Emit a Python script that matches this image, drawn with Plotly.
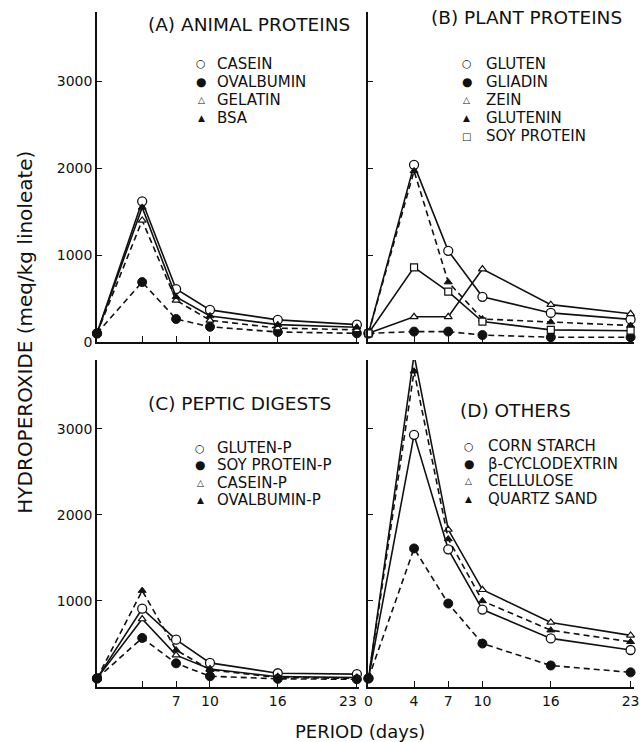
import plotly.graph_objects as go

days = [0, 4, 7, 10, 16, 23]

# Panel A - animal proteins
casein = [100, 1620, 610, 370, 255, 200]
ovalbumin = [100, 690, 265, 175, 115, 100]
gelatin = [100, 1400, 480, 250, 160, 140]
bsa = [100, 1550, 520, 300, 200, 170]

# Panel B - plant proteins
gluten = [100, 2040, 1050, 520, 335, 260]
gliadin = [100, 120, 120, 80, 55, 55]
zein = [100, 290, 290, 840, 430, 325]
glutenin = [100, 1970, 690, 265, 230, 190]
soy_protein = [100, 860, 580, 235, 140, 130]

# Panel C - peptic digests
gluten_p = [100, 910, 550, 280, 160, 150]
soy_protein_p = [100, 570, 275, 125, 95, 90]
casein_p = [100, 790, 370, 210, 120, 110]
ovalbumin_p = [100, 1120, 430, 200, 110, 100]

# Panel D - others
corn_starch = [100, 2930, 1600, 900, 565, 430]
beta_cd = [100, 1610, 970, 505, 250, 170]
cellulose = [100, 3860, 1830, 1130, 750, 600]
quartz_sand = [100, 3670, 1720, 1000, 660, 525]

panel_titles = ["(A) ANIMAL PROTEINS", "(B) PLANT PROTEINS", "(C) PEPTIC DIGESTS", "(D) OTHERS"]
y_ticks = [0, 1000, 2000, 3000]

FONT = "DejaVu Sans"
BLACK = "#111111"

STY = {
    "oc": dict(symbol="circle", size=9, color="white", line=dict(color=BLACK, width=1.3)),
    "fc": dict(symbol="circle", size=9, color=BLACK, line=dict(color=BLACK, width=1)),
    "ot": dict(symbol="triangle-up", size=7, color="white", line=dict(color=BLACK, width=1.2)),
    "ft": dict(symbol="triangle-up", size=7, color=BLACK, line=dict(color=BLACK, width=1)),
    "os": dict(symbol="square", size=7, color="white", line=dict(color=BLACK, width=1.2)),
}
GLYPH = {"oc": ("○", 11), "fc": ("●", 12), "ot": ("△", 9), "ft": ("▲", 9), "os": ("□", 10)}

panels = [
    ("x", "y", [
        ("CASEIN", casein, "oc", "solid"),
        ("OVALBUMIN", ovalbumin, "fc", "dash"),
        ("GELATIN", gelatin, "ot", "dash"),
        ("BSA", bsa, "ft", "solid"),
    ]),
    ("x2", "y2", [
        ("GLUTEN", gluten, "oc", "solid"),
        ("GLIADIN", gliadin, "fc", "dash"),
        ("ZEIN", zein, "ot", "solid"),
        ("GLUTENIN", glutenin, "ft", "dash"),
        ("SOY PROTEIN", soy_protein, "os", "solid"),
    ]),
    ("x3", "y3", [
        ("GLUTEN-P", gluten_p, "oc", "solid"),
        ("SOY PROTEIN-P", soy_protein_p, "fc", "dash"),
        ("CASEIN-P", casein_p, "ot", "solid"),
        ("OVALBUMIN-P", ovalbumin_p, "ft", "dash"),
    ]),
    ("x4", "y4", [
        ("CORN STARCH", corn_starch, "oc", "solid"),
        ("β-CYCLODEXTRIN", beta_cd, "fc", "dash"),
        ("CELLULOSE", cellulose, "ot", "solid"),
        ("QUARTZ SAND", quartz_sand, "ft", "dash"),
    ]),
]

fig = go.Figure()
for xa, ya, series in panels:
    for name, vals, sty, dash in series:
        fig.add_trace(go.Scatter(
            x=days, y=vals, xaxis=xa, yaxis=ya, mode="lines+markers",
            line=dict(color=BLACK, width=1.6, dash="6px,4px" if dash == "dash" else "solid"),
            marker=STY[sty], showlegend=False, cliponaxis=False, name=name))

W, H = 643, 742
L, R, T, B = 97, 4, 12, 55
PW, PH = W - L - R, H - T - B


def px(xp):
    return (xp - L) / PW


def py(yp):
    return (H - B - yp) / PH


xA = [px(97), px(361)]
xB = [px(371), px(639)]
yTop = [py(342), py(12)]
yBot = [py(687), py(360)]

axis_common = dict(showgrid=False, zeroline=False, showline=True, linecolor=BLACK, linewidth=1.6,
                   ticks="inside", ticklen=6, tickwidth=1.4, tickcolor=BLACK,
                   ticklabeloverflow="allow",
                   tickfont=dict(family=FONT, size=14, color=BLACK))


def xaxis(dom, rng, labels, anchor):
    d = dict(axis_common, domain=dom, range=rng, tickvals=days, anchor=anchor)
    if labels is None:
        d["showticklabels"] = False
    else:
        d["ticktext"] = labels
    return d


def yaxis(dom, anchor, labels):
    d = dict(axis_common, domain=dom, range=[0, 3800], tickvals=y_ticks, anchor=anchor, ticklen=5)
    if labels is None:
        d["showticklabels"] = False
    else:
        d["ticktext"] = labels
    return d


fig.update_layout(
    width=W, height=H, margin=dict(l=L, r=R, t=T, b=B), autosize=False,
    paper_bgcolor="white", plot_bgcolor="white",
    font=dict(family=FONT, color=BLACK), showlegend=False,
    xaxis=xaxis(xA, [0, 23.15], None, "y"),
    xaxis2=xaxis(xB, [0, 23.3], None, "y2"),
    xaxis3=xaxis(xA, [0, 23.15], ["", "", "7", "10", "16", ""], "y3"),
    xaxis4=xaxis(xB, [0, 23.3], ["0", "4", "7", "10", "16", "23"], "y4"),
    yaxis=yaxis(yTop, "x", ["0", "1000", "2000", "3000"]),
    yaxis2=yaxis(yTop, "x2", None),
    yaxis3=yaxis(yBot, "x3", ["", "1000", "2000", "3000"]),
    yaxis4=yaxis(yBot, "x4", None),
)

# the last day label of panel C sits a little left of its tick in the original
fig.add_annotation(text=str(days[-1]), x=days[-1], y=0, xref="x3", yref="y3",
                   xshift=-9, yshift=-14, xanchor="center", yanchor="middle", showarrow=False,
                   font=dict(family=FONT, size=14, color=BLACK))

legend_pos = [(202, 216, 64, 18), (470, 488, 64, 18), (201, 216, 448, 17.3), (472, 490, 446, 17.6)]
for (xa, ya, series), (mx, tx, y0, dy) in zip(panels, legend_pos):
    for i, (name, vals, sty, dash) in enumerate(series):
        yy = y0 + i * dy
        g, gs = GLYPH[sty]
        fig.add_annotation(text=g, x=px(mx), y=py(yy), xref="paper", yref="paper",
                           xanchor="center", yanchor="middle", showarrow=False,
                           font=dict(family=FONT, size=gs, color=BLACK))
        fig.add_annotation(text=name, x=px(tx), y=py(yy), xref="paper", yref="paper",
                           xanchor="left", yanchor="middle", showarrow=False,
                           font=dict(family=FONT, size=15, color=BLACK))

title_pos = [(146, 24), (432, 17), (146, 403), (461, 410)]
for t, (xp, yp) in zip(panel_titles, title_pos):
    fig.add_annotation(text=t, x=px(xp), y=py(yp), xref="paper", yref="paper",
                       xanchor="left", yanchor="middle", showarrow=False,
                       font=dict(family=FONT, size=18.5, color=BLACK))

fig.add_annotation(text="HYDROPEROXIDE (meq/kg linoleate)", x=px(24), y=py(332),
                   xref="paper", yref="paper", textangle=-90, showarrow=False,
                   xanchor="center", yanchor="middle", font=dict(family=FONT, size=20, color=BLACK))
fig.add_annotation(text="PERIOD (days)", x=px(362), y=py(731), xref="paper", yref="paper",
                   showarrow=False, xanchor="center", yanchor="middle",
                   font=dict(family=FONT, size=18, color=BLACK))

fig.write_html("out.html", config={"responsive": False})
